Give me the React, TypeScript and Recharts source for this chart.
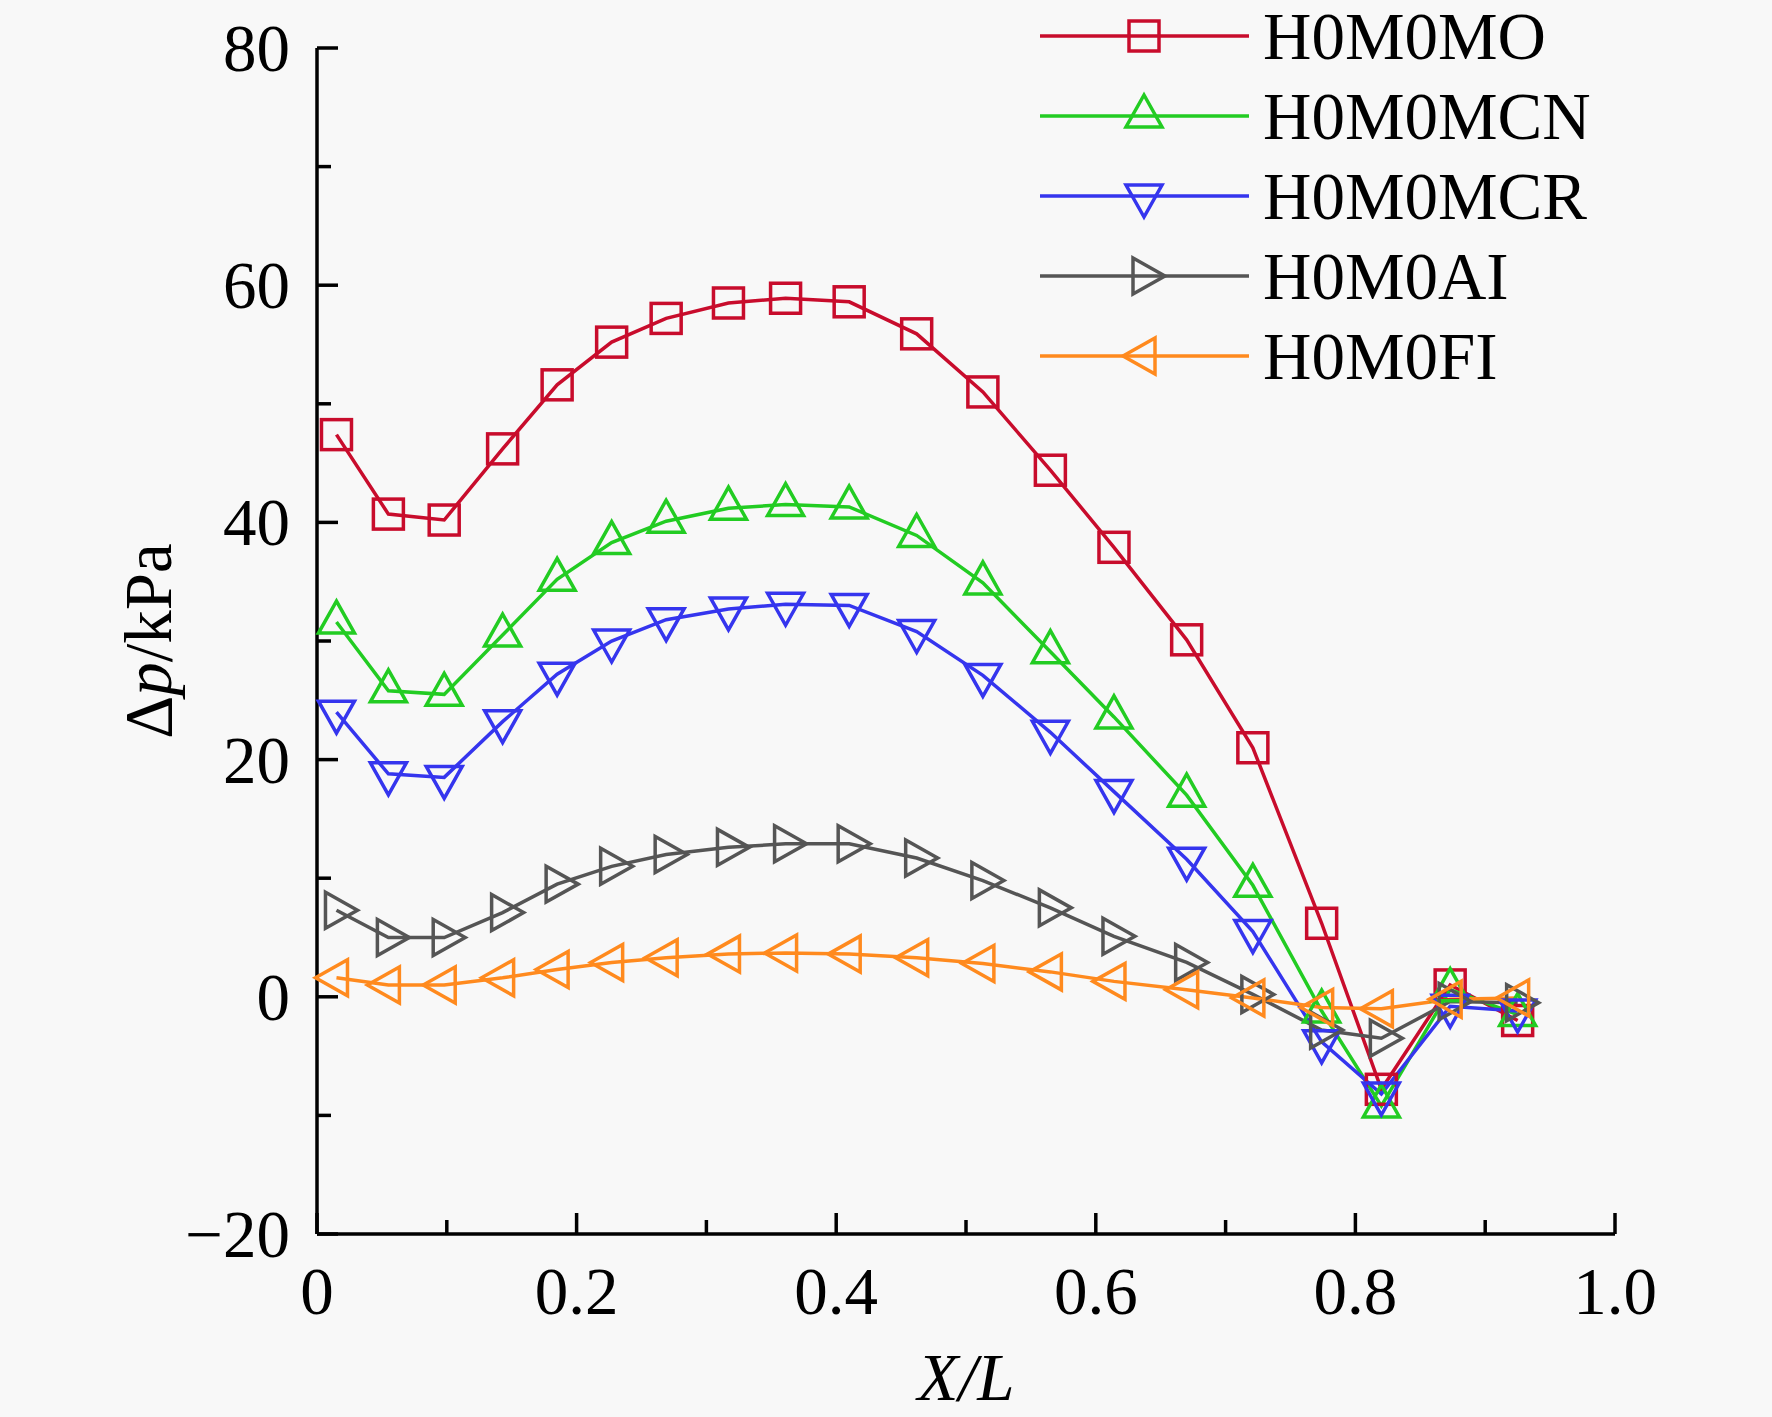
import React from 'react';
import { LineChart, Line, XAxis, YAxis } from 'recharts';

// X/L positions of the measuring points
const xPos = [0.015, 0.055, 0.098, 0.143, 0.185, 0.227, 0.269, 0.317, 0.361, 0.41, 0.462, 0.513, 0.565, 0.614, 0.67, 0.721, 0.774, 0.82, 0.873, 0.925];

// Δp (kPa) for each case
const moVals = [47.4, 40.7, 40.2, 46.2, 51.6, 55.2, 57.2, 58.5, 58.9, 58.6, 55.9, 51.0, 44.4, 37.9, 30.1, 21.0, 6.2, -7.8, 1.0, -2.0];
const mcnVals = [31.6, 25.8, 25.5, 30.5, 35.2, 38.3, 40.1, 41.2, 41.5, 41.3, 38.9, 34.9, 29.1, 23.6, 17.0, 9.4, -1.2, -9.2, 0.6, -1.5];
const mcrVals = [24.0, 18.8, 18.5, 23.2, 27.2, 30.0, 31.8, 32.7, 33.1, 33.0, 30.8, 27.1, 22.3, 17.3, 11.6, 5.5, -3.8, -8.2, -0.8, -1.2];
const aiVals = [7.3, 5.0, 5.0, 7.1, 9.5, 11.0, 12.0, 12.6, 12.9, 12.9, 11.7, 9.8, 7.5, 5.1, 2.9, 0.2, -2.8, -3.5, -0.4, -0.5];
const fiVals = [1.6, 1.0, 1.0, 1.6, 2.3, 2.9, 3.3, 3.6, 3.7, 3.6, 3.3, 2.8, 2.1, 1.3, 0.6, -0.1, -0.9, -1.0, -0.2, -0.1];

const seriesNames = ['H0M0MO', 'H0M0MCN', 'H0M0MCR', 'H0M0AI', 'H0M0FI'];

const xTicks = [0, 0.1, 0.2, 0.3, 0.4, 0.5, 0.6, 0.7, 0.8, 0.9, 1.0];
const xTickLabels: Record<string, string> = { '0': '0', '0.2': '0.2', '0.4': '0.4', '0.6': '0.6', '0.8': '0.8', '1': '1.0' };
const yTicks = [-20, -10, 0, 10, 20, 30, 40, 50, 60, 70, 80];
const yTickLabels: Record<string, string> = { '-20': '\u221220', '0': '0', '20': '20', '40': '40', '60': '60', '80': '80' };

const FONT = "'Liberation Serif', 'Times New Roman', serif";
const FS = 67;

const series = [
  { key: 'mo', name: seriesNames[0], color: '#C80C2C', shape: 'square', values: moVals },
  { key: 'mcn', name: seriesNames[1], color: '#22CC22', shape: 'up', values: mcnVals },
  { key: 'mcr', name: seriesNames[2], color: '#3535EE', shape: 'down', values: mcrVals },
  { key: 'ai', name: seriesNames[3], color: '#555555', shape: 'right', values: aiVals },
  { key: 'fi', name: seriesNames[4], color: '#FF8A1E', shape: 'left', values: fiVals },
];

const data = xPos.map((x, i) => {
  const row: Record<string, number> = { x };
  series.forEach((s) => {
    row[s.key] = s.values[i];
  });
  return row;
});

function Marker({ cx, cy, shape, color }: { cx: number; cy: number; shape: string; color: string }) {
  const sw = 3.5;
  if (shape === 'square') {
    return <rect x={cx - 15} y={cy - 15} width={30} height={30} fill="none" stroke={color} strokeWidth={sw} />;
  }
  const a = 21;
  const b = 11;
  const w = 18;
  let pts = '';
  if (shape === 'up') pts = `${cx},${cy - a} ${cx - w},${cy + b} ${cx + w},${cy + b}`;
  if (shape === 'down') pts = `${cx},${cy + a} ${cx - w},${cy - b} ${cx + w},${cy - b}`;
  if (shape === 'right') pts = `${cx + a},${cy} ${cx - b},${cy - w} ${cx - b},${cy + w}`;
  if (shape === 'left') pts = `${cx - a},${cy} ${cx + b},${cy - w} ${cx + b},${cy + w}`;
  return <polygon points={pts} fill="none" stroke={color} strokeWidth={sw} strokeLinejoin="miter" />;
}

const XTick = (props: any) => {
  const { x, y, payload } = props;
  const label = xTickLabels[String(payload.value)];
  const major = label !== undefined;
  return (
    <g>
      <line x1={x} y1={y} x2={x} y2={y - (major ? 21 : 14)} stroke="#000" strokeWidth={3.5} />
      {major && (
        <text x={x} y={y + 80} textAnchor="middle" fontFamily={FONT} fontSize={FS} fill="#000">
          {label}
        </text>
      )}
    </g>
  );
};

const YTick = (props: any) => {
  const { x, y, payload } = props;
  const label = yTickLabels[String(payload.value)];
  const major = label !== undefined;
  return (
    <g>
      <line x1={x} y1={y} x2={x + (major ? 21 : 14)} y2={y} stroke="#000" strokeWidth={3.5} />
      {major && (
        <text x={x - 27} y={y + 23} textAnchor="end" fontFamily={FONT} fontSize={FS} fill="#000">
          {label}
        </text>
      )}
    </g>
  );
};

const XLabel = (props: any) => {
  const vb = props.viewBox;
  return (
    <text x={vb.x + vb.width / 2} y={vb.y + 166} textAnchor="middle" fontFamily={FONT} fontSize={FS} fontStyle="italic" fill="#000">
      X/L
    </text>
  );
};

const YLabel = (props: any) => {
  const vb = props.viewBox;
  const cx = vb.x - 46;
  const cy = vb.y + vb.height / 2;
  return (
    <text x={cx} y={cy} transform={`rotate(-90, ${cx}, ${cy})`} textAnchor="middle" fontFamily={FONT} fontSize={FS} fill="#000">
      Δ<tspan fontStyle="italic">p</tspan>/kPa
    </text>
  );
};

function LegendBox() {
  return (
    <svg width={700} height={400} style={{ position: 'absolute', left: 1020, top: 0 }}>
      {series.map((s, i) => {
        const y = 36 + i * 80;
        return (
          <g key={s.key}>
            <line x1={20} y1={y} x2={229} y2={y} stroke={s.color} strokeWidth={3.5} />
            <Marker cx={124} cy={y} shape={s.shape} color={s.color} />
            <text x={243} y={y + 23} fontFamily={FONT} fontSize={FS} fill="#000">
              {s.name}
            </text>
          </g>
        );
      })}
    </svg>
  );
}

export default function App() {
  return (
    <div style={{ position: 'absolute', left: 0, top: 0, width: 1772, height: 1417, background: '#f8f8f8' }}>
      <LineChart
        width={1772}
        height={1417}
        data={data}
        margin={{ top: 48, right: 157, left: 217, bottom: 83 }}
      >
        <XAxis
          type="number"
          dataKey="x"
          domain={[0, 1]}
          ticks={xTicks}
          interval={0}
          height={100}
          tickSize={0}
          tickMargin={0}
          tickLine={false}
          axisLine={{ stroke: '#000', strokeWidth: 3.5 }}
          tick={<XTick />}
          label={{ content: <XLabel /> }}
        />
        <YAxis
          type="number"
          domain={[-20, 80]}
          ticks={yTicks}
          interval={0}
          width={100}
          tickSize={0}
          tickMargin={0}
          tickLine={false}
          axisLine={{ stroke: '#000', strokeWidth: 3.5 }}
          tick={<YTick />}
          label={{ content: <YLabel /> }}
        />
        {series.map((s) => (
          <Line
            key={s.key}
            type="linear"
            dataKey={s.key}
            name={s.name}
            stroke={s.color}
            strokeWidth={3.5}
            isAnimationActive={false}
            dot={(p: any) => <Marker key={`${s.key}-${p.index}`} cx={p.cx} cy={p.cy} shape={s.shape} color={s.color} />}
            activeDot={false}
          />
        ))}
      </LineChart>
      <LegendBox />
    </div>
  );
}
